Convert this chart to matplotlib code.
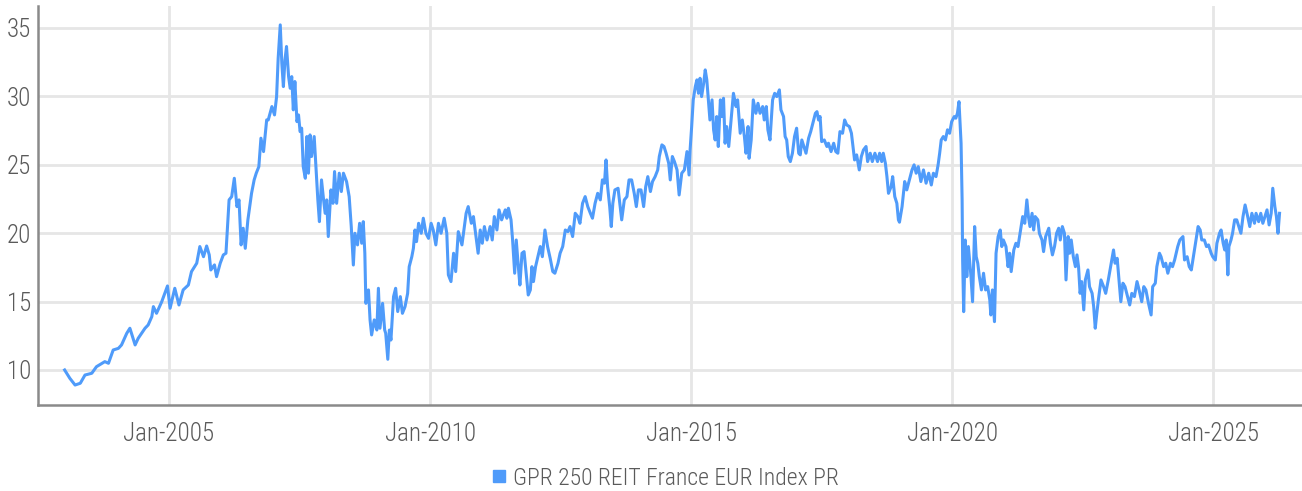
import matplotlib
matplotlib.use("Agg")
import matplotlib.pyplot as plt
from matplotlib.lines import Line2D
from matplotlib import font_manager

# ---------------- data (decimal year, index level) ----------------
dates = [
    2003.00, 2003.10, 2003.20, 2003.30, 2003.39, 2003.52, 2003.61, 2003.77, 2003.84, 2003.93,
    2004.03, 2004.09, 2004.19, 2004.25, 2004.35, 2004.41, 2004.54, 2004.60, 2004.67, 2004.70,
    2004.76, 2004.86, 2004.97, 2005.02, 2005.11, 2005.19, 2005.27, 2005.37, 2005.43, 2005.53,
    2005.59, 2005.66, 2005.72, 2005.77, 2005.80, 2005.87, 2005.91, 2005.98, 2006.04, 2006.09,
    2006.15, 2006.20, 2006.25, 2006.30, 2006.34, 2006.38, 2006.42, 2006.46, 2006.51, 2006.58,
    2006.63, 2006.67, 2006.72, 2006.76, 2006.81, 2006.87,
    2006.90, 2006.97, 2007.02, 2007.06, 2007.09, 2007.13, 2007.16, 2007.19, 2007.22, 2007.25,
    2007.29, 2007.32, 2007.35, 2007.38, 2007.41, 2007.45, 2007.48, 2007.51, 2007.54, 2007.57,
    2007.61, 2007.64, 2007.67, 2007.70, 2007.73, 2007.78, 2007.81, 2007.85, 2007.88, 2007.92,
    2007.96, 2007.99, 2008.02, 2008.05, 2008.10, 2008.14, 2008.17, 2008.21, 2008.26, 2008.30,
    2008.34, 2008.40, 2008.45, 2008.49, 2008.53, 2008.56, 2008.61, 2008.65, 2008.69, 2008.72,
    2008.75, 2008.77, 2008.82, 2008.85, 2008.88, 2008.93, 2008.98, 2009.01, 2009.04, 2009.09,
    2009.13, 2009.15, 2009.19, 2009.22, 2009.25, 2009.30, 2009.34, 2009.38, 2009.43, 2009.47,
    2009.52, 2009.57, 2009.60, 2009.65, 2009.68, 2009.71, 2009.74, 2009.78, 2009.83, 2009.87,
    2009.92, 2009.97, 2010.02, 2010.06, 2010.11, 2010.16, 2010.21, 2010.27, 2010.32, 2010.35,
    2010.40, 2010.45, 2010.49, 2010.54, 2010.61, 2010.64, 2010.69, 2010.73, 2010.79, 2010.83,
    2010.87, 2010.92,
    2010.96, 2011.00, 2011.04, 2011.09, 2011.15, 2011.19, 2011.23, 2011.28, 2011.32, 2011.37,
    2011.44, 2011.47, 2011.50, 2011.55, 2011.58, 2011.62, 2011.65, 2011.69, 2011.72, 2011.76,
    2011.80, 2011.84, 2011.88, 2011.92, 2011.95, 2011.98, 2012.02, 2012.08, 2012.11, 2012.15,
    2012.20, 2012.25, 2012.30, 2012.35, 2012.39, 2012.45, 2012.49, 2012.54, 2012.59, 2012.64,
    2012.68, 2012.73, 2012.78, 2012.83, 2012.87, 2012.92, 2012.97, 2013.02, 2013.07, 2013.11,
    2013.16, 2013.21, 2013.26, 2013.30, 2013.34, 2013.37, 2013.40, 2013.44, 2013.47, 2013.50,
    2013.54, 2013.60, 2013.64, 2013.67, 2013.72, 2013.77, 2013.81, 2013.86, 2013.91, 2013.95,
    2013.99, 2014.04, 2014.09, 2014.13, 2014.17, 2014.22, 2014.26, 2014.31, 2014.36, 2014.39,
    2014.44, 2014.48, 2014.52, 2014.57, 2014.60, 2014.64, 2014.68, 2014.73, 2014.77, 2014.82,
    2014.87, 2014.92, 2014.96,
    2014.98, 2015.01, 2015.04, 2015.08, 2015.11, 2015.14, 2015.17, 2015.20, 2015.24, 2015.27,
    2015.30, 2015.33, 2015.36, 2015.40, 2015.43, 2015.46, 2015.49, 2015.52, 2015.56, 2015.59,
    2015.62, 2015.65, 2015.68, 2015.72, 2015.76, 2015.81, 2015.86, 2015.89, 2015.94, 2015.98,
    2016.02, 2016.05, 2016.09, 2016.11, 2016.15, 2016.19, 2016.24, 2016.28, 2016.32, 2016.37,
    2016.40, 2016.44, 2016.47, 2016.51, 2016.56, 2016.60, 2016.64, 2016.69, 2016.72, 2016.77,
    2016.80, 2016.83, 2016.86, 2016.90, 2016.94, 2016.98, 2017.02, 2017.06, 2017.09, 2017.12,
    2017.16, 2017.20, 2017.25, 2017.29, 2017.33, 2017.38, 2017.41, 2017.44, 2017.47, 2017.50,
    2017.55, 2017.60, 2017.63, 2017.68, 2017.73, 2017.77, 2017.81, 2017.85, 2017.90, 2017.94,
    2017.98, 2018.03, 2018.07, 2018.10, 2018.13, 2018.17, 2018.22, 2018.26, 2018.30, 2018.35,
    2018.38, 2018.43, 2018.47, 2018.52, 2018.57, 2018.61, 2018.65, 2018.68, 2018.72, 2018.75,
    2018.78, 2018.83, 2018.86, 2018.90, 2018.94, 2018.97,
    2018.99, 2019.04, 2019.09, 2019.13, 2019.18, 2019.23, 2019.27, 2019.31, 2019.35, 2019.40,
    2019.45, 2019.50, 2019.55, 2019.60, 2019.64, 2019.69, 2019.73, 2019.76, 2019.79, 2019.83,
    2019.87, 2019.91, 2019.95, 2019.99, 2020.04, 2020.07, 2020.10, 2020.13, 2020.17, 2020.19,
    2020.20, 2020.22, 2020.25, 2020.28, 2020.31, 2020.36, 2020.39, 2020.43, 2020.46, 2020.49,
    2020.52, 2020.56, 2020.60, 2020.64, 2020.68, 2020.72, 2020.74, 2020.77, 2020.81, 2020.84,
    2020.88, 2020.92, 2020.95, 2020.98, 2021.03, 2021.07, 2021.10, 2021.13, 2021.18, 2021.22,
    2021.26, 2021.30, 2021.35, 2021.39, 2021.43, 2021.46, 2021.49, 2021.53, 2021.56, 2021.59,
    2021.64, 2021.67, 2021.72, 2021.75, 2021.79, 2021.85, 2021.88, 2021.92, 2021.96, 2022.00,
    2022.04, 2022.07, 2022.11, 2022.15, 2022.18, 2022.22, 2022.25, 2022.28, 2022.32, 2022.36,
    2022.39, 2022.42, 2022.45, 2022.48, 2022.52, 2022.55, 2022.60, 2022.63, 2022.68, 2022.71,
    2022.74, 2022.77, 2022.80, 2022.85, 2022.90, 2022.94, 2022.99,
    2023.04, 2023.09, 2023.12, 2023.16, 2023.19, 2023.23, 2023.27, 2023.31, 2023.36, 2023.40,
    2023.44, 2023.49, 2023.54, 2023.58, 2023.63, 2023.67, 2023.71, 2023.76, 2023.81, 2023.84,
    2023.89, 2023.92, 2023.97, 2024.00, 2024.05, 2024.09, 2024.13, 2024.18, 2024.22, 2024.26,
    2024.29, 2024.32, 2024.36, 2024.39, 2024.42, 2024.45, 2024.50, 2024.54, 2024.58, 2024.62,
    2024.67, 2024.71, 2024.75, 2024.78, 2024.83, 2024.87, 2024.91, 2024.96, 2024.99, 2025.04,
    2025.07, 2025.12, 2025.15, 2025.19, 2025.22, 2025.25, 2025.28, 2025.30, 2025.34, 2025.37,
    2025.41, 2025.45, 2025.49, 2025.53, 2025.57, 2025.61, 2025.66, 2025.70, 2025.74, 2025.79,
    2025.82, 2025.87, 2025.91, 2025.95, 2026.00, 2026.03, 2026.07, 2026.11, 2026.14, 2026.18,
    2026.21, 2026.24, 2026.27,
]

index_values = [
    10.00, 9.39, 8.90, 9.03, 9.63, 9.76, 10.24, 10.61, 10.49, 11.46,
    11.58, 11.83, 12.68, 13.05, 11.83, 12.32, 13.05, 13.29, 13.90, 14.63,
    14.14, 14.99, 16.14, 14.51, 15.97, 14.75, 15.85, 16.21, 17.19, 17.80,
    19.02, 18.28, 19.06, 18.41, 17.31, 17.68, 16.82, 17.80, 18.41, 18.53,
    22.43, 22.67, 24.01, 21.94, 22.43, 19.14, 20.36, 18.89, 20.97, 22.91,
    23.89, 24.38, 24.86, 26.94, 25.96, 28.28,
    28.27, 29.25, 28.64, 29.98, 32.78, 35.22, 32.42, 30.71, 32.66, 33.64,
    31.44, 30.59, 31.44, 29.01, 31.08, 28.15, 28.64, 27.42, 27.67, 24.86,
    24.01, 27.06, 24.38, 27.18, 25.60, 27.06, 25.11, 22.43, 20.84, 23.89,
    22.43, 21.45, 22.43, 19.75, 23.16, 22.18, 24.50, 22.18, 24.38, 23.04,
    24.38, 23.77, 22.67, 20.48, 17.67, 19.99, 19.14, 20.72, 19.26, 20.84,
    18.53, 14.87, 15.85, 13.66, 12.56, 13.66, 12.92, 15.97, 13.05, 14.87,
    12.92, 12.68, 10.78, 12.92, 12.19, 15.36, 15.97, 14.27, 15.36, 14.14,
    14.63, 15.60, 17.55, 18.28, 18.89, 20.23, 19.38, 20.72, 19.99, 21.09,
    19.99, 19.62, 20.72, 20.23, 19.14, 20.72, 19.99, 21.09, 19.99, 16.95,
    16.46, 18.53, 17.19, 20.11, 19.14, 19.99, 21.45, 21.94, 20.72, 21.21,
    19.99, 18.53,
    20.23, 19.26, 20.48, 19.50, 20.48, 19.50, 21.21, 20.23, 21.70, 20.97,
    21.70, 21.09, 21.82, 20.97, 19.50, 17.07, 19.50, 17.55, 16.21, 18.53,
    18.65, 17.07, 15.48, 15.85, 17.55, 16.46, 17.55, 18.53, 19.02, 18.28,
    20.23, 19.02, 18.16, 17.19, 17.07, 17.80, 18.53, 19.02, 20.23, 20.11,
    20.48, 19.75, 21.45, 21.21, 20.72, 22.18, 22.67, 21.94, 21.45, 21.09,
    22.18, 22.91, 22.43, 23.89, 23.65, 25.35, 23.40, 21.94, 20.48, 22.18,
    23.16, 23.28, 21.94, 20.97, 22.43, 22.67, 23.89, 23.89, 22.91, 21.94,
    23.16, 23.16, 21.94, 23.40, 24.13, 23.04, 23.77, 24.13, 24.62, 25.60,
    26.45, 26.33, 25.84, 25.11, 23.89, 25.60, 25.23, 24.62, 22.79, 24.38,
    24.62, 25.96, 24.25,
    26.08, 27.79, 29.74, 30.71, 31.20, 30.22, 31.32, 29.98, 30.96, 31.93,
    31.20, 29.74, 28.27, 29.74, 27.55, 26.81, 28.52, 26.33, 29.74, 28.52,
    29.86, 26.57, 27.79, 26.33, 28.03, 30.22, 29.25, 29.74, 27.30, 28.27,
    27.06, 25.84, 27.79, 25.47, 26.81, 29.74, 28.76, 29.49, 28.76, 29.25,
    28.27, 29.25, 27.55, 26.81, 29.74, 30.22, 29.98, 30.47, 29.01, 28.52,
    27.06, 26.81, 25.60, 25.23, 25.84, 27.06, 27.67, 25.84, 25.72, 26.81,
    26.33, 25.84, 26.94, 27.42, 28.03, 28.76, 28.88, 28.27, 28.52, 26.69,
    26.81, 26.33, 26.57, 25.96, 26.57, 25.96, 25.84, 27.42, 27.30, 28.27,
    27.91, 27.79, 27.30, 26.33, 25.35, 25.72, 24.62, 25.60, 26.08, 26.33,
    25.23, 25.84, 25.23, 25.84, 25.23, 25.84, 25.23, 25.84, 25.11, 24.13,
    22.91, 23.40, 24.13, 22.67, 22.18, 20.97,
    20.80, 21.94, 23.77, 23.16, 23.89, 24.62, 24.99, 24.38, 24.86, 23.77,
    24.62, 23.65, 24.38, 23.52, 24.38, 24.13, 24.99, 25.84, 26.81, 27.06,
    26.81, 27.55, 27.30, 28.15, 28.52, 28.40, 28.76, 29.61, 26.57, 22.43,
    18.04, 14.26, 19.50, 16.82, 19.02, 16.82, 14.99, 20.48, 18.28, 17.80,
    16.82, 15.85, 17.07, 15.85, 16.09, 15.12, 14.02, 15.85, 13.53, 18.53,
    19.75, 20.23, 19.02, 19.50, 19.02, 17.55, 18.53, 17.19, 18.77, 19.26,
    19.02, 19.99, 21.21, 20.72, 22.43, 21.21, 20.48, 21.45, 20.23, 21.21,
    20.97, 19.99, 19.50, 18.65, 19.75, 20.36, 19.26, 18.41, 19.02, 19.99,
    20.36, 19.50, 20.48, 19.99, 16.58, 19.75, 18.53, 19.50, 18.28, 17.55,
    18.41, 17.55, 15.60, 16.46, 14.39, 16.58, 17.31, 16.09, 15.60, 14.63,
    13.05, 14.14, 15.12, 16.58, 16.09, 15.60, 16.58,
    17.67, 18.77, 17.80, 18.16, 16.82, 14.99, 16.34, 16.09, 15.36, 14.75,
    15.60, 15.36, 16.46, 15.85, 14.99, 16.09, 15.85, 14.87, 14.02, 16.09,
    16.34, 17.55, 18.53, 18.28, 17.55, 17.80, 17.07, 17.80, 17.55, 18.04,
    18.53, 19.02, 19.50, 19.63, 19.75, 18.04, 18.28, 17.55, 17.31, 18.28,
    19.50, 20.48, 20.23, 19.50, 19.50, 19.02, 19.14, 18.53, 18.28, 18.04,
    19.26, 19.99, 20.23, 19.26, 18.77, 19.50, 16.95, 19.02, 19.50, 19.99,
    20.97, 20.97, 20.48, 19.99, 21.21, 22.06, 21.21, 20.48, 21.45, 20.72,
    21.45, 20.84, 21.45, 20.72, 21.33, 21.70, 20.60, 21.45, 23.28, 21.94,
    21.21, 19.99, 21.45,
]

tick_years = [2005, 2010, 2015, 2020, 2025]
tick_labels = ["Jan-2005", "Jan-2010", "Jan-2015", "Jan-2020", "Jan-2025"]
y_ticks = [10, 15, 20, 25, 30, 35]
series_name = "GPR 250 REIT France EUR Index PR"

# ---------------- style ----------------
installed = {f.name for f in font_manager.fontManager.ttflist}
family = "DejaVu Sans"
for cand in ["Roboto Condensed", "Liberation Sans Narrow", "Roboto"]:
    if cand in installed:
        family = cand
        break
plt.rcParams["font.family"] = [family, "DejaVu Sans"]
plt.rcParams["font.weight"] = "light"

line_color = "#4f9bfa"
grid_color = "#e6e6e6"
spine_color = "#8a8a8a"
text_color = "#5a5a5a"

fig = plt.figure(figsize=(13.02, 4.91), dpi=100)
ax = fig.add_axes([38 / 1302, 1 - 405 / 491, 1 - 38 / 1302, (405 - 6) / 491])

ax.plot(dates, index_values, color=line_color, lw=2.2, solid_joinstyle="round", zorder=3)

ax.set_xlim(2002.49, 2026.7)
ax.set_ylim(7.44, 36.6)
ax.set_xticks(tick_years)
ax.set_xticklabels(tick_labels)
ax.set_yticks(y_ticks)

ax.grid(True, color=grid_color, lw=2.0, zorder=0)
ax.set_axisbelow(True)
for s in ["top", "right"]:
    ax.spines[s].set_visible(False)
for s in ["left", "bottom"]:
    ax.spines[s].set_color(spine_color)
    ax.spines[s].set_linewidth(1.8)

ax.tick_params(axis="both", length=0, labelsize=18, colors=text_color)
ax.tick_params(axis="x", pad=12)
ax.tick_params(axis="y", pad=5)

handle = Line2D([], [], marker="s", color="none", markerfacecolor=line_color,
                markeredgecolor=line_color, markersize=8)
fig.legend([handle], [series_name], loc="center", bbox_to_anchor=(665 / 1302, 1 - 478 / 491),
           frameon=False, fontsize=17, labelcolor=text_color, handlelength=0.6,
           handletextpad=0.3, borderpad=0)

fig.savefig("out.png", dpi=100)
